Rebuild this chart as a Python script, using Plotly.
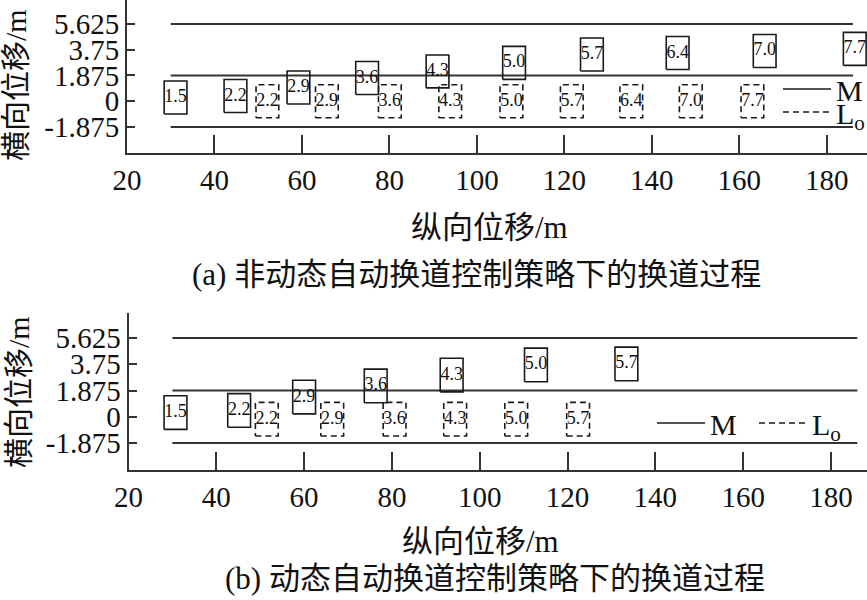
import plotly.graph_objects as go

# ---------------- data ----------------
lane_y = [5.625, 1.875, -1.875]
lane_x = [30, 186]
x_ticks = [20, 40, 60, 80, 100, 120, 140, 160, 180]
y_ticks = [5.625, 3.75, 1.875, 0, -1.875]
y_tick_text = ["5.625", "3.75", "1.875", "0", "-1.875"]

# (a) non-dynamic
a_m_x = [31.1, 44.8, 59.2, 74.9, 91.0, 108.5, 126.3, 145.9, 165.8, 186.4]
a_m_y = [0.27, 0.38, 1.00, 1.69, 2.17, 2.79, 3.40, 3.51, 3.66, 3.81]
a_m_t = ["1.5", "2.2", "2.9", "3.6", "4.3", "5.0", "5.7", "6.4", "7.0", "7.7"]
a_lo_x = [52.1, 65.7, 80.1, 93.9, 107.9, 121.7, 135.3, 148.9, 163.0]
a_lo_y = [0.0, 0.0, 0.0, 0.0, 0.0, 0.0, 0.0, 0.0, 0.0]
a_lo_t = ["2.2", "2.9", "3.6", "4.3", "5.0", "5.7", "6.4", "7.0", "7.7"]

# (b) dynamic
b_m_x = [30.7, 45.2, 60.0, 76.3, 93.6, 112.8, 133.4]
b_m_y = [0.30, 0.45, 1.41, 2.20, 2.98, 3.70, 3.77]
b_m_t = ["1.5", "2.2", "2.9", "3.6", "4.3", "5.0", "5.7"]
b_lo_x = [51.5, 66.4, 80.6, 94.4, 108.3, 122.4]
b_lo_y = [-0.17, -0.17, -0.17, -0.17, -0.17, -0.17]
b_lo_t = ["2.2", "2.9", "3.6", "4.3", "5.0", "5.7"]

VEH_L = 5.2   # box length (m)
VEH_W = 2.4   # box width (m)

SERIF = "Liberation Serif"
CJK = "Liberation Serif, Noto Sans CJK SC"
LINE_C = "#333333"
BOX_C = "#1a1a1a"


def boxes(xs, ys):
    bx, by = [], []
    for cx, cy in zip(xs, ys):
        x0, x1 = cx - VEH_L / 2, cx + VEH_L / 2
        y0, y1 = cy - VEH_W / 2, cy + VEH_W / 2
        bx += [x0, x1, x1, x0, x0, None]
        by += [y0, y0, y1, y1, y0, None]
    return bx, by


def lanes():
    lx, ly = [], []
    for yv in lane_y:
        lx += [lane_x[0], lane_x[1], None]
        ly += [yv, yv, None]
    return lx, ly


fig = go.Figure()


def add_panel(xa, ya, m_x, m_y, m_t, lo_x, lo_y, lo_t, leg_m, leg_lo):
    lx, ly = lanes()
    fig.add_trace(go.Scatter(x=lx, y=ly, mode="lines", xaxis=xa, yaxis=ya,
                             line=dict(color=LINE_C, width=2), showlegend=False,
                             hoverinfo="skip"))
    bx, by = boxes(m_x, m_y)
    fig.add_trace(go.Scatter(x=bx, y=by, mode="lines", xaxis=xa, yaxis=ya,
                             line=dict(color=BOX_C, width=1.6), name="M",
                             legend=leg_m, showlegend=True))
    bx, by = boxes(lo_x, lo_y)
    fig.add_trace(go.Scatter(x=bx, y=by, mode="lines", xaxis=xa, yaxis=ya,
                             line=dict(color=BOX_C, width=1.6, dash="6px,4px"),
                             name="L<sub>o</sub>", legend=leg_lo, showlegend=True))
    fig.add_trace(go.Scatter(x=m_x, y=m_y, text=m_t, mode="text", xaxis=xa, yaxis=ya,
                             textfont=dict(family=SERIF, size=18, color="#111"),
                             cliponaxis=False, showlegend=False))
    fig.add_trace(go.Scatter(x=lo_x, y=lo_y, text=lo_t, mode="text", xaxis=xa, yaxis=ya,
                             textfont=dict(family=SERIF, size=18, color="#111"),
                             cliponaxis=False, showlegend=False))


add_panel("x", "y", a_m_x, a_m_y, a_m_t, a_lo_x, a_lo_y, a_lo_t, "legend", "legend2")
add_panel("x2", "y2", b_m_x, b_m_y, b_m_t, b_lo_x, b_lo_y, b_lo_t, "legend3", "legend4")

axis_common = dict(showline=True, linewidth=2, linecolor=LINE_C, ticks="inside",
                   tickcolor=LINE_C, tickwidth=2, showgrid=False, zeroline=False,
                   automargin=False,
                   tickfont=dict(family=SERIF, size=29, color="#111"))

fig.update_layout(
    width=867, height=600,
    margin=dict(l=0, r=0, t=0, b=0, pad=0, autoexpand=False),
    paper_bgcolor="white", plot_bgcolor="white",
    font=dict(family=CJK, color="#111"),
    xaxis=dict(domain=[127 / 867, 1.0], range=[20, 189.2], anchor="y",
               tickvals=x_ticks, ticklen=18, **axis_common),
    yaxis=dict(domain=[1 - 153 / 600, 1.0], range=[-3.77, 7.37], anchor="x",
               tickvals=y_ticks, ticktext=y_tick_text, ticklen=8, **axis_common),
    xaxis2=dict(domain=[128.5 / 867, 1.0], range=[20, 188.2], anchor="y2",
                tickvals=x_ticks, ticklen=18, **axis_common),
    yaxis2=dict(domain=[1 - 470 / 600, 1 - 313 / 600], range=[-3.80, 7.41], anchor="x2",
                tickvals=y_ticks, ticktext=y_tick_text, ticklen=8, **axis_common),
)

leg_common = dict(bgcolor="rgba(0,0,0,0)", font=dict(family=SERIF, size=30, color="#111"),
                  xanchor="left", yanchor="middle", itemwidth=48, borderwidth=0,
                  tracegroupgap=0)
fig.update_layout(
    legend=dict(x=778 / 867, y=1 - 89 / 600, **leg_common),
    legend2=dict(x=778 / 867, y=1 - 112 / 600, **leg_common),
    legend3=dict(x=652 / 867, y=1 - 423 / 600, **leg_common),
    legend4=dict(x=754 / 867, y=1 - 423 / 600, **leg_common),
)

anns = [
    dict(text="横向位移/m", x=16 / 867, y=1 - 85 / 600, textangle=-90, size=30),
    dict(text="横向位移/m", x=18 / 867, y=1 - 392 / 600, textangle=-90, size=30),
    dict(text="纵向位移/m", x=489 / 867, y=1 - 227 / 600, size=31),
    dict(text="纵向位移/m", x=480 / 867, y=1 - 541 / 600, size=31),
    dict(text="(a) 非动态自动换道控制策略下的换道过程", x=476 / 867, y=1 - 275 / 600, size=31),
    dict(text="(b) 动态自动换道控制策略下的换道过程", x=495 / 867, y=1 - 578 / 600, size=31),
]
for a in anns:
    sz = a.pop("size")
    fig.add_annotation(xref="paper", yref="paper", showarrow=False,
                       xanchor="center", yanchor="middle",
                       font=dict(family=CJK, size=sz, color="#111"), **a)

fig.write_html("out.html", config={"displayModeBar": False},
               post_script="document.body.style.margin='0';document.body.style.overflow='hidden';")
